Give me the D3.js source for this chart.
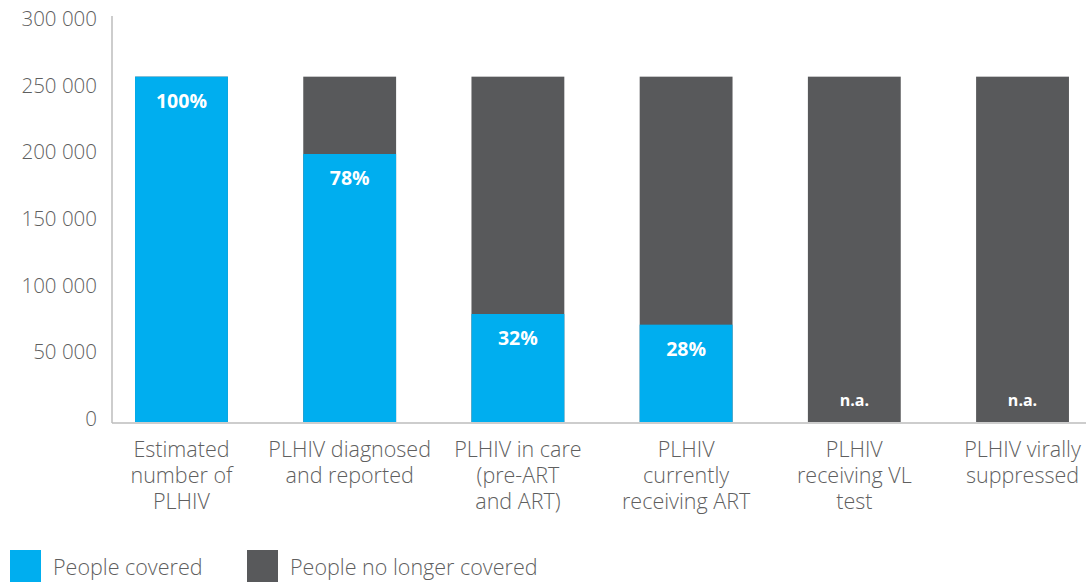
<!DOCTYPE html>
<html><head><meta charset="utf-8">
<script src="https://cdn.jsdelivr.net/npm/d3@7"></script>
<style>
html,body{margin:0;padding:0;background:#fff;}
svg{display:block;font-family:"Open Sans",sans-serif;}
</style></head>
<body><svg id="c" width="1086" height="582"></svg>
<script>
const categories = [
  ["Estimated","number of","PLHIV"],
  ["PLHIV diagnosed","and reported"],
  ["PLHIV in care","(pre-ART","and ART)"],
  ["PLHIV","currently","receiving ART"],
  ["PLHIV","receiving VL","test"],
  ["PLHIV virally","suppressed"]
];
const totalValues = [259000, 259000, 259000, 259000, 259000, 259000];
const coveredValues = [259000, 201000, 81000, 73000, 0, 0];
const pctLabels = ["100%","78%","32%","28%","n.a.","n.a."];
const yTicks = [0, 50000, 100000, 150000, 200000, 250000, 300000];
const legendLabels = ["People covered","People no longer covered"];
const colors = {covered:"#00AEEF", notCovered:"#58595B"};

const svg = d3.select("#c");
const x = d3.scaleBand().domain(d3.range(categories.length)).range([112,1092])
  .paddingInner(0.448).paddingOuter(0.137);
const y = d3.scaleLinear().domain([0,300000]).range([422,22]);

const fmt = v => v===0 ? "0" : d3.format(",")(v).replace(/,/g," ");

// y tick labels
svg.append("g").selectAll("text").data(yTicks).join("text")
  .attr("x",97).attr("y",d=>y(d)+4).attr("text-anchor","end")
  .attr("font-size",20.5).attr("font-weight",300).attr("fill","#5f5f5f").text(fmt);

// bars
const g = svg.append("g");
categories.forEach((c,i)=>{
  g.append("rect").attr("x",x(i)).attr("width",x.bandwidth())
    .attr("y",y(totalValues[i])).attr("height",y(0)-y(totalValues[i]))
    .attr("fill",colors.notCovered);
  if(coveredValues[i]>0){
    g.append("rect").attr("x",x(i)).attr("width",x.bandwidth())
      .attr("y",y(coveredValues[i])).attr("height",y(0)-y(coveredValues[i]))
      .attr("fill",colors.covered);
  }
});
// pct labels
categories.forEach((c,i)=>{
  const na = coveredValues[i]===0;
  svg.append("text").attr("x",x(i)+x.bandwidth()/2)
    .attr("y", na ? y(0)-16 : y(coveredValues[i])+31)
    .attr("text-anchor","middle").attr("font-weight","bold")
    .attr("font-size", na?16:19.5).attr("fill","#fff").text(pctLabels[i]);
});

// axes lines
svg.append("line").attr("x1",112).attr("x2",112).attr("y1",16).attr("y2",y(0)+1)
  .attr("stroke","#bdbdbd").attr("stroke-width",1.5);
svg.append("line").attr("x1",112).attr("x2",1086).attr("y1",y(0)+1).attr("y2",y(0)+1)
  .attr("stroke","#bdbdbd").attr("stroke-width",1.5);

// category labels
categories.forEach((lines,i)=>{
  const t = svg.append("text").attr("text-anchor","middle").attr("font-size",21.5)
    .attr("font-weight",300).attr("fill","#5f5f5f");
  lines.forEach((l,k)=>{
    t.append("tspan").attr("x",x(i)+x.bandwidth()/2).attr("y",457+k*26).text(l);
  });
});

// legend
const lg = svg.append("g");
const lx = [10,247];
legendLabels.forEach((l,i)=>{
  lg.append("rect").attr("x",lx[i]).attr("y",550).attr("width",31).attr("height",32)
    .attr("fill", i===0?colors.covered:colors.notCovered);
  lg.append("text").attr("x",lx[i]+43).attr("y",575).attr("font-size",21.5)
    .attr("font-weight",300).attr("fill","#5f5f5f").text(l);
});
</script></body></html>
